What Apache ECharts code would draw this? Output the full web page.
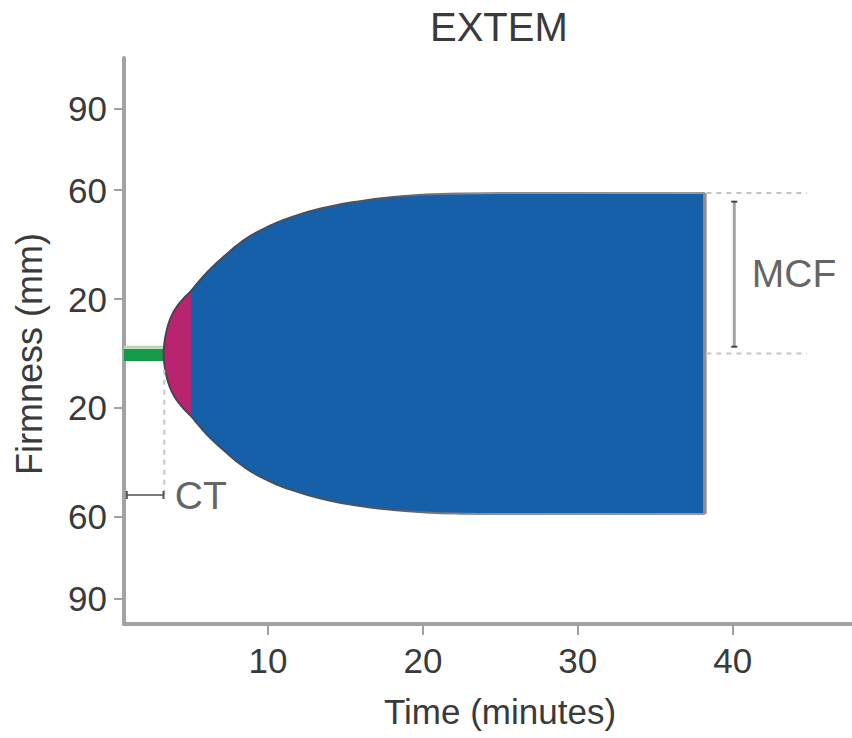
<!DOCTYPE html>
<html>
<head>
<meta charset="utf-8">
<title>EXTEM</title>
<script src="https://cdn.jsdelivr.net/npm/echarts@6/dist/echarts.min.js"></script>
<style>
  html, body { margin: 0; padding: 0; background: #fff; }
  #chart { width: 852px; height: 738px; }
</style>
</head>
<body>
<div id="chart"></div>
<script>
// EXTEM trace: clot amplitude (mm) against time (minutes), drawn mirrored about 0.
const ctTime = 3.3;        // clotting time (min)
const cftEnd = 5.03;       // end of clot-formation phase (min)
const runEnd = 38.2;       // end of recording (min)
const mcf = 59;            // maximum clot firmness (mm)

// clot envelope: formation phase up to cftEnd, then firmness build-up and plateau
const envTime = [3.26, 3.3, 3.4, 3.55, 3.8, 4.1, 4.45, 4.75, 5.03, 5.5, 6.26, 7.34, 8.19,
                 9.48, 11.6, 13.8, 15.94, 18.1, 20.2, 22.4, 25, 38.2];
const envAmp  = [0, 3.5, 7, 10.5, 14.2, 17.1, 19.6, 21.4, 23, 26.2, 31, 36.6, 40.6,
                 45.2, 50.3, 53.8, 56, 57.5, 58.4, 58.85, 59, 59];

// baseline before clotting (green)
const baseTime = [0.7, 3.26];
const baseLevel = -0.55;
const baseEdge = 2.3;

const xTicks = [10, 20, 30, 40];
const yTicks = [-90, -60, -20, 20, 60, 90];

const FONT = '"Liberation Sans", Arial, Helvetica, sans-serif';
const TEXT = '#3a3a3a';
const FORM_COLOR = '#b8246f';
const FIRM_COLOR = '#1660aa';

const envPoints = (sign) => envTime.map((t, i) => [t, sign * envAmp[i]]);
const firmPoints = (sign) => envPoints(sign).filter(p => p[0] >= cftEnd);

// outline darkens on the rising curve and fades to grey along the plateau
const edgeFade = new echarts.graphic.LinearGradient(0, 0, 1, 0, [
  { offset: 0, color: '#45454f' },
  { offset: 0.42, color: '#55555f' },
  { offset: 0.58, color: '#8e8e96' },
  { offset: 1, color: '#98989e' }
]);

const SMOOTH = 0.5;

// filled half of the envelope; halves overlap slightly along the midline so no seam shows
function fill(name, data, sign, color, z) {
  return {
    name, type: 'line', data, showSymbol: false, symbol: 'none', smooth: SMOOTH,
    lineStyle: { width: 0, opacity: 0 },
    areaStyle: { color, opacity: 1, origin: -sign * 0.6 },
    z, silent: true
  };
}

function outline(name, sign) {
  return {
    name, type: 'line', data: envPoints(sign), showSymbol: false, symbol: 'none', smooth: SMOOTH,
    lineStyle: { color: edgeFade, width: 2 }, z: 4, silent: true
  };
}

function plainLine(name, data, style, extra) {
  return Object.assign({
    name, type: 'line', data, showSymbol: false, symbol: 'none',
    lineStyle: style, silent: true, z: 5
  }, extra || {});
}

const chart = echarts.init(document.getElementById('chart'), null, { renderer: 'svg' });

chart.setOption({
  animation: false,
  backgroundColor: '#ffffff',
  title: {
    text: 'EXTEM', left: 430, top: 7, padding: 0,
    textStyle: { fontFamily: FONT, fontSize: 40, fontWeight: 'normal', color: TEXT }
  },
  grid: { left: 124, right: 0, top: 58, bottom: 114, containLabel: false, outerBoundsMode: 'none' },
  xAxis: {
    type: 'value', min: 0.7, max: 47.7,
    name: 'Time (minutes)', nameLocation: 'middle', nameGap: 70,
    nameTextStyle: { fontFamily: FONT, fontSize: 35, color: TEXT, padding: [0, 0, 0, 24] },
    axisLine: { show: true, onZero: false, lineStyle: { color: '#a2a2a6', width: 4 } },
    axisTick: { show: true, customValues: xTicks, length: 11, lineStyle: { color: '#a0a0a4', width: 2 } },
    axisLabel: { customValues: xTicks, margin: 19, fontFamily: FONT, fontSize: 35, color: TEXT },
    splitLine: { show: false }
  },
  yAxis: {
    type: 'value', min: -99.4, max: 108.6,
    name: 'Firmness (mm)', nameLocation: 'middle', nameGap: 77,
    nameTextStyle: { fontFamily: FONT, fontSize: 36, color: TEXT, padding: [0, 26, 0, 0] },
    axisLine: { show: true, onZero: false, lineStyle: { color: '#a2a2a6', width: 4 } },
    axisTick: { show: true, customValues: yTicks, length: 10, lineStyle: { color: '#a0a0a4', width: 2 } },
    axisLabel: {
      customValues: yTicks, margin: 17, fontFamily: FONT, fontSize: 35, color: TEXT,
      formatter: v => String(Math.abs(v))
    },
    splitLine: { show: false }
  },
  series: [
    // baseline before clot formation
    plainLine('baseline', baseTime.map(t => [t, baseLevel]), { color: '#17994a', width: 12, cap: 'butt' }, { z: 2 }),
    plainLine('baseline edge', baseTime.map(t => [t, baseEdge]), { color: '#b6d9b3', width: 3, cap: 'butt' }, { z: 2 }),

    // formation phase fills the whole envelope, firmness phase is laid over it from cftEnd on
    fill('formation upper', envPoints(1), 1, FORM_COLOR, 2),
    fill('formation lower', envPoints(-1), -1, FORM_COLOR, 2),
    fill('firmness upper', firmPoints(1), 1, FIRM_COLOR, 3),
    fill('firmness lower', firmPoints(-1), -1, FIRM_COLOR, 3),

    // envelope outline
    outline('outline upper', 1),
    outline('outline lower', -1),

    // end of the recording
    plainLine('run end', [[runEnd, mcf], [runEnd, -mcf]], { color: '#8e8e94', width: 3.5 }),

    // CT marker
    plainLine('CT guide', [[ctTime, -6], [ctTime, -53.5]], { color: '#c4c4c4', width: 2, type: [5, 5] }),
    plainLine('CT span', [[0.88, -52], [ctTime - 0.05, -52]], { color: '#7a7a7a', width: 2 }, {
      showSymbol: true, symbol: 'rect', symbolSize: [2, 8], itemStyle: { color: '#555' }
    }),

    // MCF marker
    plainLine('MCF top', [[runEnd + 0.1, mcf], [44.8, mcf]], { color: '#c4c4c4', width: 2, type: [5, 5] }),
    plainLine('MCF base', [[runEnd + 0.1, 0], [44.8, 0]], { color: '#c4c4c4', width: 2, type: [5, 5] }),
    plainLine('MCF span', [[40.1, mcf - 3.2], [40.1, 2.5]], { color: '#a4a4a8', width: 3 }, {
      showSymbol: true, symbol: 'rect', symbolSize: [6, 2], itemStyle: { color: '#444' }
    }),

    // annotation text
    {
      name: 'labels', type: 'scatter', silent: true, z: 6,
      symbolSize: 1, itemStyle: { color: 'rgba(0,0,0,0)' },
      data: [
        { value: [ctTime, -52], label: { formatter: 'CT', distance: 10 } },
        { value: [40.1, mcf / 2], label: { formatter: 'MCF', distance: 17 } }
      ],
      label: { show: true, position: 'right', fontFamily: FONT, fontSize: 39, color: TEXT }
    }
  ]
});
</script>
</body>
</html>
